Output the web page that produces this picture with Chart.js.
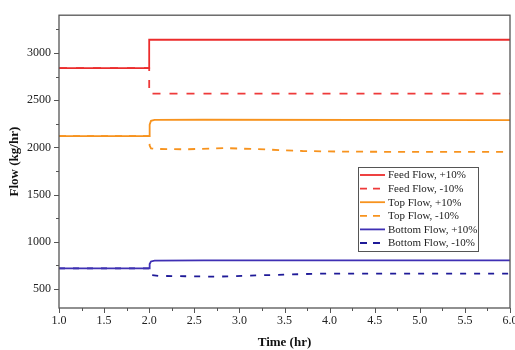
<!DOCTYPE html>
<html>
<head>
<meta charset="utf-8">
<script src="https://cdn.jsdelivr.net/npm/chart.js@4.4.1/dist/chart.umd.min.js"></script>
<style>
  html, body { margin: 0; padding: 0; background: #fff; overflow: hidden; }
  #wrap { width: 515px; height: 350px; }
</style>
</head>
<body>
<div id="wrap"><canvas id="flowChart" width="515" height="350"></canvas></div>
<script>
// tick labels
const xMajor = [1.0, 1.5, 2.0, 2.5, 3.0, 3.5, 4.0, 4.5, 5.0, 5.5, 6.0];
const xMinor = [1.25, 1.75, 2.25, 2.75, 3.25, 3.75, 4.25, 4.75, 5.25, 5.75];
const yMajor = [500, 1000, 1500, 2000, 2500, 3000];
const yMinor = [750, 1250, 1750, 2250, 2750, 3250];

// series (time in hr, flow in kg/hr)
const feedUpTime = [1.0, 2.0, 2.0, 6.0];
const feedUpFlow = [2840, 2840, 3140, 3140];
const feedDownTime = [1.0, 2.0, 2.0, 6.0];
const feedDownFlow = [2840, 2840, 2570, 2570];
const topUpTime = [1.0, 2.0, 2.005, 2.02, 2.06, 2.6, 6.0];
const topUpFlow = [2120, 2120, 2240, 2282, 2291, 2293, 2290];
const topDownTime = [1.0, 2.0, 2.005, 2.02, 2.06, 2.4, 2.85, 3.3, 3.7, 4.2, 5.0, 6.0];
const topDownFlow = [2120, 2120, 2020, 1990, 1984, 1980, 1993, 1978, 1962, 1955, 1953, 1953];
const bottomUpTime = [1.0, 2.0, 2.005, 2.02, 2.06, 2.6, 6.0];
const bottomUpFlow = [720, 720, 765, 793, 801, 805, 805];
const bottomDownTime = [1.0, 2.0, 2.005, 2.03, 2.1, 2.4, 2.75, 3.3, 3.9, 5.0, 6.0];
const bottomDownFlow = [720, 720, 685, 648, 640, 636, 632, 648, 664, 665, 665];

const pts = (t, v) => t.map((x, i) => ({ x, y: v[i] }));

const serif = "'Liberation Serif', 'DejaVu Serif', serif";

function series(label, t, v, color, dash) {
  return {
    label,
    data: pts(t, v),
    borderColor: color,
    backgroundColor: color,
    borderWidth: 1.8,
    borderDash: dash,
    pointRadius: 0,
    tension: 0,
    fill: false
  };
}

const datasets = [
  series('Feed Flow, +10%', feedUpTime, feedUpFlow, '#ec2c2c', []),
  series('Feed Flow, -10%', feedDownTime, feedDownFlow, '#ee3a3a', [8, 9]),
  series('Top Flow, +10%', topUpTime, topUpFlow, '#f7931e', []),
  series('Top Flow, -10%', topDownTime, topDownFlow, '#f7931e', [7, 7]),
  series('Bottom Flow, +10%', bottomUpTime, bottomUpFlow, '#3f30b4', []),
  series('Bottom Flow, -10%', bottomDownTime, bottomDownFlow, '#1f1a98', [6, 8])
];

// frame + outward ticks
const framePlugin = {
  id: 'frame',
  afterDatasetsDraw(chart) {
    const { ctx, chartArea: a, scales } = chart;
    ctx.save();
    ctx.strokeStyle = '#555';
    ctx.lineWidth = 1;
    ctx.beginPath();
    xMajor.forEach(v => { const p = Math.round(scales.x.getPixelForValue(v)) + 0.5; ctx.moveTo(p, a.bottom); ctx.lineTo(p, a.bottom + 5); });
    xMinor.forEach(v => { const p = Math.round(scales.x.getPixelForValue(v)) + 0.5; ctx.moveTo(p, a.bottom); ctx.lineTo(p, a.bottom + 3); });
    yMajor.forEach(v => { const p = Math.round(scales.y.getPixelForValue(v)) + 0.5; ctx.moveTo(a.left, p); ctx.lineTo(a.left - 5, p); });
    yMinor.forEach(v => { const p = Math.round(scales.y.getPixelForValue(v)) + 0.5; ctx.moveTo(a.left, p); ctx.lineTo(a.left - 3, p); });
    ctx.stroke();
    ctx.lineWidth = 1.3;
    ctx.strokeRect(a.left, a.top, a.right - a.left, a.bottom - a.top);
    ctx.restore();
  }
};

// legend box inside the plot
const boxLegend = {
  id: 'boxLegend',
  afterDraw(chart) {
    const { ctx, chartArea: a } = chart;
    const x0 = a.right - 152, y0 = 167, w = 120, h = 84, row = 13.6;
    ctx.save();
    ctx.fillStyle = '#fff';
    ctx.fillRect(x0, y0, w, h);
    ctx.strokeStyle = '#555';
    ctx.lineWidth = 1;
    ctx.strokeRect(x0 + 0.5, y0 + 0.5, w, h);
    ctx.font = '11px ' + serif;
    ctx.textBaseline = 'middle';
    chart.data.datasets.forEach((ds, i) => {
      const y = y0 + 8 + i * row;
      ctx.strokeStyle = ds.borderColor;
      ctx.lineWidth = 1.8;
      ctx.setLineDash(ds.borderDash.length ? [7, 6] : []);
      ctx.beginPath();
      ctx.moveTo(x0 + 2, y);
      ctx.lineTo(x0 + 27, y);
      ctx.stroke();
      ctx.setLineDash([]);
      ctx.fillStyle = '#222';
      ctx.fillText(ds.label, x0 + 30, y + 0.5);
    });
    ctx.restore();
  }
};

new Chart(document.getElementById('flowChart'), {
  type: 'line',
  data: { datasets },
  plugins: [framePlugin, boxLegend],
  options: {
    responsive: false,
    animation: false,
    layout: { padding: { left: 0, top: 13, right: 5, bottom: 0 } },
    plugins: { legend: { display: false }, tooltip: { enabled: false } },
    scales: {
      x: {
        type: 'linear',
        min: 1,
        max: 6,
        afterBuildTicks: s => { s.ticks = xMajor.map(v => ({ value: v })); },
        afterFit: s => { s.height = 42; s.paddingRight = 0; s.paddingLeft = 0; },
        grid: { display: false, drawTicks: false },
        border: { display: false },
        ticks: {
          padding: 6,
          color: '#222',
          font: { family: serif, size: 12 },
          maxRotation: 0,
          autoSkip: false,
          callback: v => Number(v).toFixed(1)
        },
        title: {
          display: true,
          text: 'Time (hr)',
          color: '#111',
          font: { family: serif, size: 13, weight: 'bold' },
          padding: { top: 4, bottom: 0 }
        }
      },
      y: {
        min: 300,
        max: 3400,
        afterBuildTicks: s => { s.ticks = yMajor.map(v => ({ value: v })); },
        afterFit: s => { s.width = 59; },
        grid: { display: false, drawTicks: false },
        border: { display: false },
        ticks: {
          padding: 8,
          color: '#222',
          font: { family: serif, size: 12 },
          callback: v => String(v)
        },
        title: {
          display: true,
          text: 'Flow (kg/hr)',
          color: '#111',
          font: { family: serif, size: 13, weight: 'bold' },
          padding: { top: 7, bottom: 2 }
        }
      }
    }
  }
});
</script>
</body>
</html>
